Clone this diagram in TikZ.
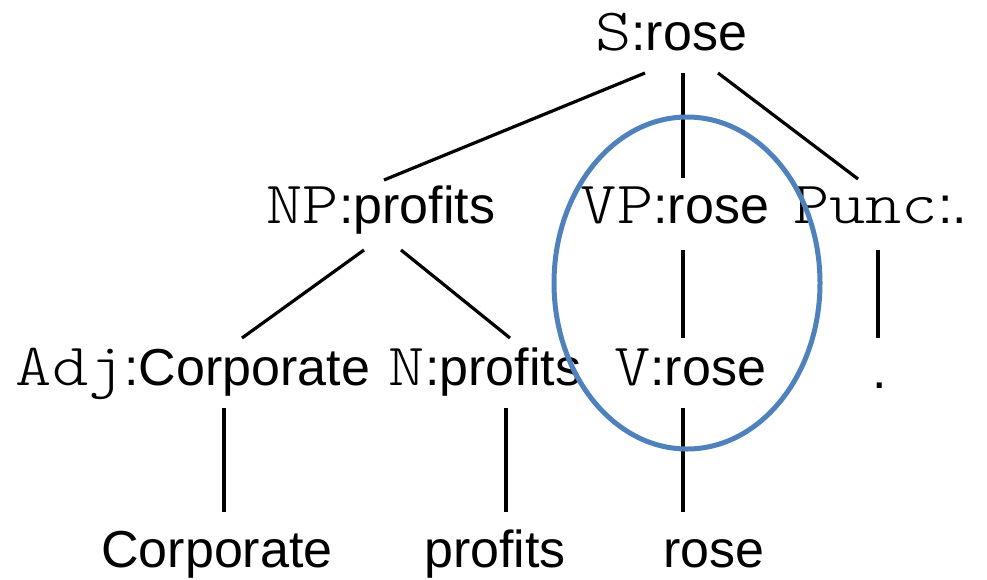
\documentclass[tikz,border=0pt]{standalone}
\usepackage{fontspec}
\setmainfont{Liberation Sans}
\newfontfamily\monof[FakeStretch=1.15]{Latin Modern Mono Light}
\definecolor{ellblue}{HTML}{4F81BD}
\tikzset{
  lbl/.style={anchor=base, inner sep=0pt, font=\fontsize{52}{60}\selectfont},
  edge/.style={line width=3.2pt, black},
}
\newcommand{\cat}[1]{{\fontsize{60}{68}\monof #1}}
\begin{document}
\begin{tikzpicture}[x=1pt,y=-1pt]
\useasboundingbox (0,0) rectangle (987,579);
% nodes
\node[lbl] (S) at (671,50) {\cat{S}:rose};
\node[lbl] (NP) at (381,223) {\cat{NP}:profits};
\node[lbl] (VP) at (675,223) {\cat{VP}:rose};
\node[lbl] (Punc) at (880,223) {\cat{Punc}:.};
\node[lbl] (Adj) at (193,385) {\cat{Adj}:Corporate};
\node[lbl] (N) at (485,385) {\cat{N}:profits};
\node[lbl] (V) at (690,385) {\cat{V}:rose};
\node[lbl] (dot) at (880,388) {.};
\node[lbl] (w1) at (217,567) {Corporate};
\node[lbl] (w2) at (495,567) {profits};
\node[lbl] (w3) at (714,567) {rose};
% connector ends
\coordinate (sa) at (645,73); \coordinate (npT) at (384,180);
\coordinate (sb) at (683,73); \coordinate (vpT) at (683,178);
\coordinate (sc) at (718,73); \coordinate (pT) at (858,179);
\coordinate (npa) at (364,250); \coordinate (adjT) at (242,338);
\coordinate (npb) at (401,250); \coordinate (nT) at (510,338);
\coordinate (vpB) at (683,250); \coordinate (vT) at (683,338);
\coordinate (pB) at (878,250); \coordinate (dotT) at (878,338);
\coordinate (adjB) at (224,408); \coordinate (w1T) at (224,512);
\coordinate (nB) at (506,408); \coordinate (w2T) at (506,512);
\coordinate (vB) at (683,408); \coordinate (w3T) at (683,512);
\draw[edge] (sa) -- (npT);
\draw[edge] (sb) -- (vpT);
\draw[edge] (sc) -- (pT);
\draw[edge] (npa) -- (adjT);
\draw[edge] (npb) -- (nT);
\draw[edge] (vpB) -- (vT);
\draw[edge] (pB) -- (dotT);
\draw[edge] (adjB) -- (w1T);
\draw[edge] (nB) -- (w2T);
\draw[edge] (vB) -- (w3T);
% ellipse
\draw[ellblue, line width=5pt] (687,283) ellipse [x radius=133, y radius=166];
\end{tikzpicture}
\end{document}
